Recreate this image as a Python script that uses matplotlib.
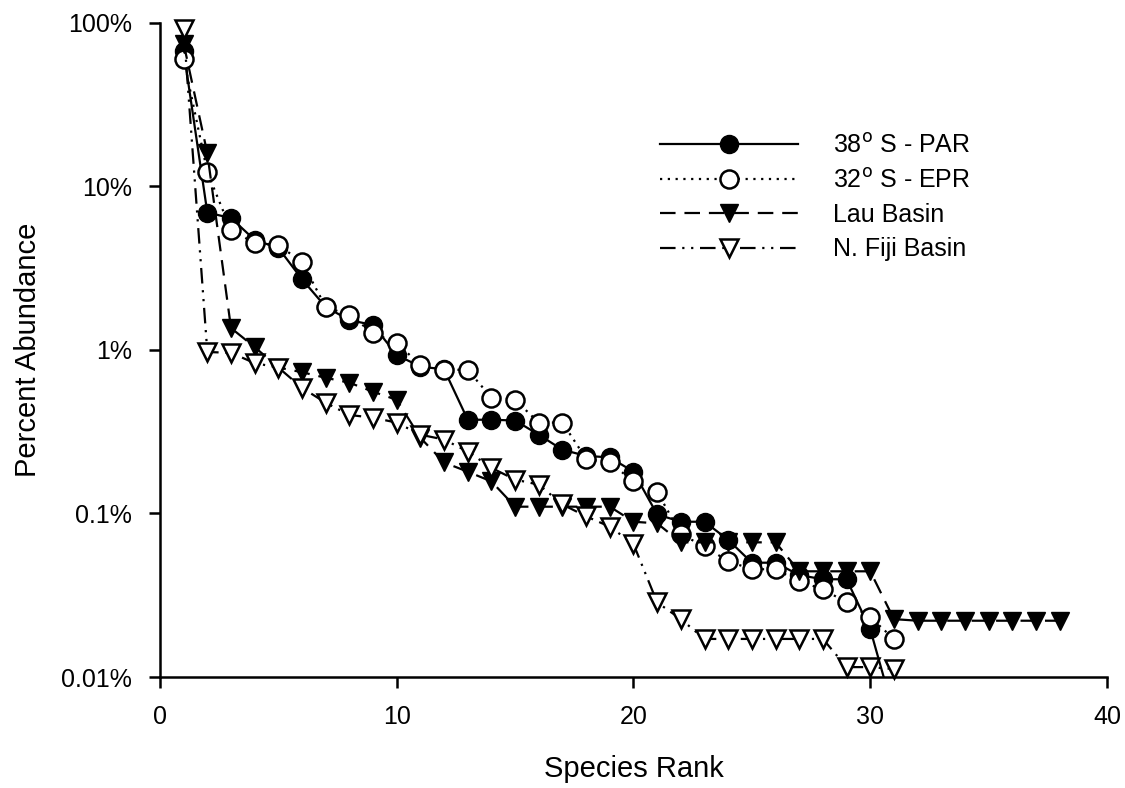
import numpy as np
import matplotlib.pyplot as plt
from matplotlib.ticker import FixedLocator, FixedFormatter, NullLocator

plt.rcParams['font.family'] = ['Liberation Sans', 'DejaVu Sans']

# percent abundance by species rank
par_38s = [67, 6.9, 6.4, 4.7, 4.2, 2.7, 1.83, 1.52, 1.42, 0.93,
           0.79, 0.76, 0.374, 0.374, 0.37, 0.303, 0.245, 0.225, 0.22, 0.18,
           0.0986, 0.089, 0.089, 0.069, 0.050, 0.050, 0.042, 0.0396, 0.0396, 0.0196,
           0.006]
epr_32s = [60, 12.2, 5.4, 4.5, 4.37, 3.44, 1.83, 1.63, 1.27, 1.10,
           0.81, 0.755, 0.755, 0.51, 0.495, 0.359, 0.359, 0.216, 0.205, 0.157,
           0.136, 0.0745, 0.063, 0.051, 0.0456, 0.0456, 0.0385, 0.0344, 0.0286, 0.0232,
           0.0171]
lau = [74.5, 15.9, 1.36, 1.04, 0.78, 0.73, 0.675, 0.63, 0.555, 0.495,
       0.29, 0.205, 0.18, 0.157, 0.110, 0.110, 0.110, 0.110, 0.110, 0.089,
       0.087, 0.0666, 0.0666, 0.0666, 0.0666, 0.0666, 0.0443, 0.0443, 0.0443, 0.0443,
       0.0226, 0.0221, 0.0221, 0.0221, 0.0221, 0.0221, 0.0221, 0.0221]
fiji = [92, 0.97, 0.96, 0.83, 0.78, 0.586, 0.475, 0.40, 0.385, 0.359,
        0.303, 0.283, 0.239, 0.19, 0.161, 0.150, 0.1135, 0.096, 0.083, 0.065,
        0.0286, 0.0226, 0.0171, 0.0171, 0.0171, 0.0171, 0.0171, 0.0171, 0.0115, 0.0115,
        0.0112]

labels = [r'38$^{\rm o}$ S - PAR', r'32$^{\rm o}$ S - EPR', 'Lau Basin', 'N. Fiji Basin']
yticks = [0.01, 0.1, 1, 10, 100]
yticklabels = ['0.01%', '0.1%', '1%', '10%', '100%']

fig = plt.figure(figsize=(11.25, 7.88), dpi=100)
ax = fig.add_axes([0.1422, 0.1408, 0.8418, 0.8304])

ms = 13
lw = 1.6
ax.plot(np.arange(1, len(par_38s) + 1), par_38s, '-', color='black', lw=lw,
        marker='o', ms=ms, mfc='black', mec='black', label=labels[0])
ax.plot(np.arange(1, len(epr_32s) + 1), epr_32s, color='black', lw=lw,
        ls=(0, (1, 2.5)), marker='o', ms=ms, mfc='white', mec='black', mew=1.8,
        label=labels[1])
ax.plot(np.arange(1, len(lau) + 1), lau, color='black', lw=lw,
        ls=(0, (7, 4)), marker='v', ms=ms, mfc='black', mec='black',
        label=labels[2])
ax.plot(np.arange(1, len(fiji) + 1), fiji, color='black', lw=lw,
        ls=(0, (7, 3, 1, 3, 1, 3)), marker='v', ms=ms, mfc='white', mec='black',
        mew=1.8, label=labels[3], clip_on=False)

ax.set_yscale('log')
ax.set_ylim(0.01, 100)
ax.set_xlim(0, 40)
ax.yaxis.set_major_locator(FixedLocator(yticks))
ax.yaxis.set_major_formatter(FixedFormatter(yticklabels))
ax.yaxis.set_minor_locator(NullLocator())
ax.set_xticks([0, 10, 20, 30, 40])

for s in ['top', 'right']:
    ax.spines[s].set_visible(False)
for s in ['left', 'bottom']:
    ax.spines[s].set_linewidth(1.8)
ax.tick_params(direction='out', length=8, width=1.8, labelsize=18, pad=12)

ax.set_xlabel('Species Rank', fontsize=21, labelpad=19)
ax.set_ylabel('Percent Abundance', fontsize=21, labelpad=14)

ax.legend(loc='upper left', bbox_to_anchor=(0.528, 0.83), frameon=False,
          fontsize=18, handlelength=5.5, handletextpad=1.4, labelspacing=0.42,
          borderpad=0, borderaxespad=0, markerscale=1.0)

plt.savefig('out.png', dpi=100)
